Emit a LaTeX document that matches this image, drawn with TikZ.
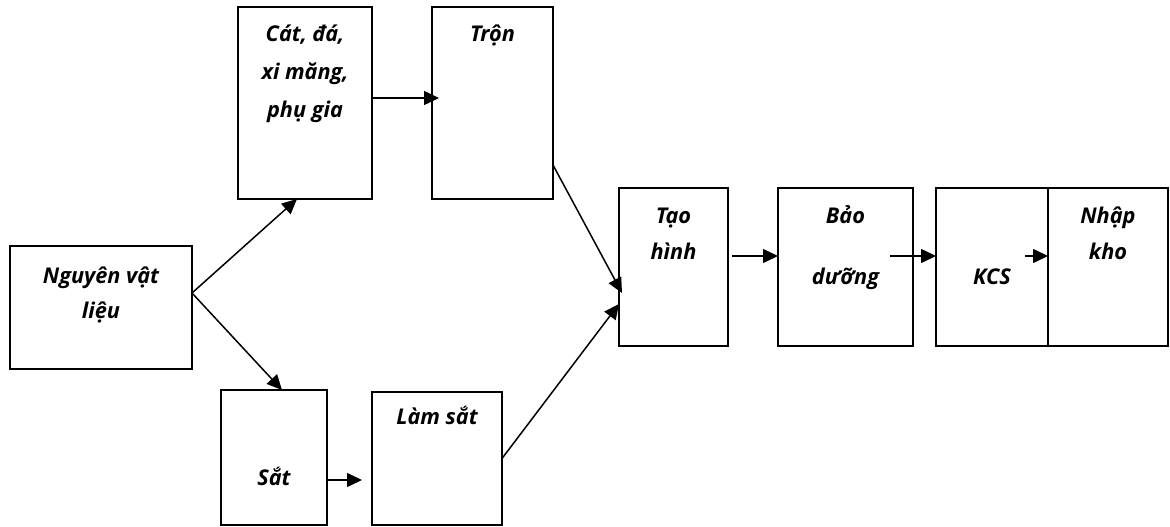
\documentclass[tikz,border=0pt]{standalone}
\usepackage{fontspec}
\setmainfont{Open Sans}
\usetikzlibrary{arrows.meta}
\tikzset{
  box/.style={draw, line width=1.7pt, inner sep=0pt, outer sep=0pt},
  arr/.style={line width=1.5pt, -{Triangle[length=15pt,width=14pt]}},
  lbl/.style={anchor=base, inner sep=0pt, font=\fontsize{21.7}{25}\selectfont\bfseries\itshape}
}
\begin{document}
\begin{tikzpicture}[x=1pt,y=-1pt]
\useasboundingbox (0,0) rectangle (1170,527);

% process boxes
\node[box, minimum width=182pt, minimum height=123pt] (nvl) at (101,307.5) {};
\node[box, minimum width=134pt, minimum height=192pt] (cat) at (305,103) {};
\node[box, minimum width=121pt, minimum height=192pt] (tron) at (492.5,103) {};
\node[box, minimum width=106pt, minimum height=135pt] (sat) at (274,457.5) {};
\node[box, minimum width=130pt, minimum height=133pt] (lamsat) at (437,458.5) {};
\node[box, minimum width=109pt, minimum height=158pt] (tao) at (673.5,267) {};
\node[box, minimum width=135pt, minimum height=158pt] (bao) at (845.5,267) {};
\node[box, minimum width=112pt, minimum height=158pt] (kcs) at (992,267) {};
\node[box, minimum width=120pt, minimum height=158pt] (nhap) at (1108,267) {};

% labels
\node[lbl] (nvl1) at (101,283) {Nguyên vật};
\node[lbl] (nvl2) at (101,318) {liệu};
\node[lbl] (cat1) at (305,42) {Cát, đá,};
\node[lbl] (cat2) at (305,80) {xi măng,};
\node[lbl] (cat3) at (305,117) {phụ gia};
\node[lbl] (tron1) at (492.5,42) {Trộn};
\node[lbl] (sat1) at (274,485) {Sắt};
\node[lbl] (lamsat1) at (437,424) {Làm sắt};
\node[lbl] (tao1) at (673.5,223) {Tạo};
\node[lbl] (tao2) at (673.5,259) {hình};
\node[lbl] (bao1) at (845.5,223) {Bảo};
\node[lbl] (bao2) at (845.5,284) {dưỡng};
\node[lbl] (kcs1) at (992,284) {KCS};
\node[lbl] (nhap1) at (1108,223) {Nhập};
\node[lbl] (nhap2) at (1108,259) {kho};

% connectors
\coordinate (fork) at ([yshift=14.5pt]nvl.east);
\draw[arr] (fork) -- ([xshift=-8pt]cat.south);
\draw[arr] (fork) -- ([xshift=8pt]sat.north);
\draw[arr] ([yshift=5pt]cat.east) -- ([yshift=5pt,xshift=7pt]tron.west);
\draw[arr] ([yshift=-62pt]tron.east) -- ([yshift=-26pt,xshift=3pt]tao.west);
\draw[arr] (lamsat.east) -- ([yshift=-37pt]tao.west);
\draw[arr] ([yshift=-22.5pt]sat.east) -- ([yshift=-21.5pt,xshift=-10pt]lamsat.west);
\draw[arr] ([xshift=4pt,yshift=11pt]tao.east) -- ([yshift=11pt]bao.west);
\draw[arr] ([xshift=-23pt,yshift=11pt]bao.east) -- ([yshift=11pt]kcs.west);
\draw[arr] ([xshift=-23pt,yshift=11pt]kcs.east) -- ([yshift=11pt]nhap.west);
\end{tikzpicture}
\end{document}
